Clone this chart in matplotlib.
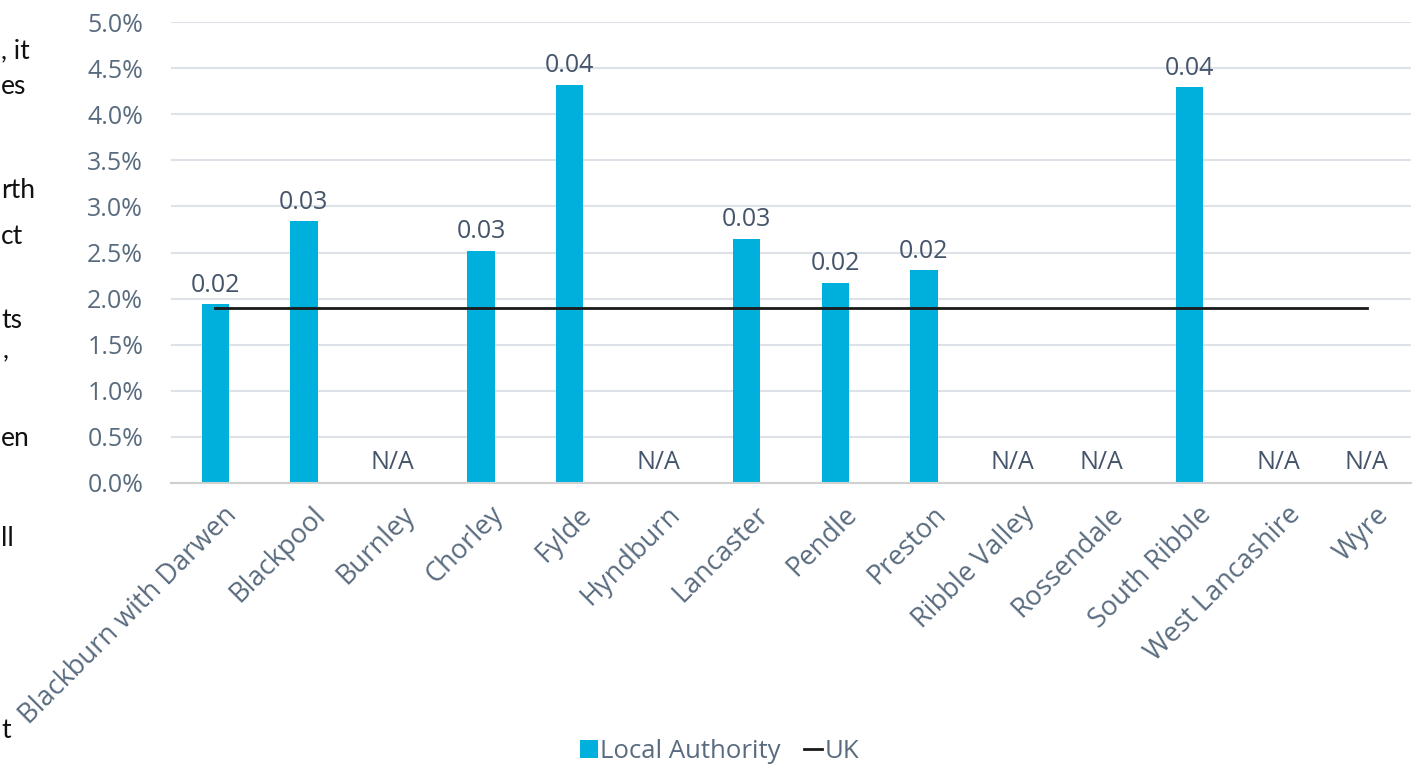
import numpy as np
import matplotlib
matplotlib.use("Agg")
import matplotlib.pyplot as plt
from matplotlib.patches import Patch
from matplotlib.lines import Line2D
from matplotlib.transforms import offset_copy

# Share of local businesses by Lancashire local authority, against the UK figure
authorities = ["Blackburn with Darwen", "Blackpool", "Burnley", "Chorley", "Fylde",
               "Hyndburn", "Lancaster", "Pendle", "Preston", "Ribble Valley",
               "Rossendale", "South Ribble", "West Lancashire", "Wyre"]
local_share = [0.0194, 0.0284, None, 0.0252, 0.0432, None, 0.0265, 0.0217,
               0.0231, None, None, 0.0429, None, None]
uk_share = 0.019
y_ticks = [0.0, 0.005, 0.01, 0.015, 0.02, 0.025, 0.03, 0.035, 0.04, 0.045, 0.05]

# Fragments of the neighbouring paragraph that run in from the left edge
side_text = [(", it", 51), ("es", 87), ("rth", 191), ("ct", 237), ("ts", 320),
             (",", 350), ("en", 438), ("ll", 538), ("t", 731)]
side_right = [28, 16, 28, 18, 14, 9, 19, 13, 10]

BAR = "#00b0dc"
TXT = "#596b7e"
LBL = "#44546a"
FONT = ["Open Sans", "DejaVu Sans"]
SIDE_FONT = ["Lato", "DejaVu Sans"]

W, H = 1413, 766
fig = plt.figure(figsize=(W / 100, H / 100), dpi=100)
ax = fig.add_axes([171 / W, 1 - 483 / H, (1411 - 171) / W, (483 - 22) / H])

x = np.arange(len(authorities))
for i, v in enumerate(local_share):
    if v is None:
        ax.text(i, 0.0022, "N/A", ha="center", va="center", fontsize=18,
                color=LBL, family=FONT)
    else:
        ax.bar(i, v, width=0.31, color=BAR, zorder=2)
        ax.text(i, v + 0.0007, f"{v:.2f}", ha="center", va="bottom",
                fontsize=18, color=LBL, family=FONT)

ax.plot([x[0], x[-1]], [uk_share, uk_share], color="#1a1a1a", lw=2, zorder=3)

ax.set_xlim(-0.5, len(authorities) - 0.5)
ax.set_ylim(0, 0.05)
ax.set_yticks(y_ticks)
ax.set_yticklabels([f"{t * 100:.1f}%" for t in y_ticks], family=FONT,
                   fontsize=18, color=TXT)
ax.tick_params(axis="y", length=0, pad=20)
ax.set_xticks([])
ax.grid(axis="y", color="#dde2e8", lw=1.5, zorder=0)
ax.set_axisbelow(True)
for side in ("top", "right", "left"):
    ax.spines[side].set_visible(False)
ax.spines["bottom"].set_color("#d0d0d0")
ax.spines["bottom"].set_linewidth(1.5)

for i, name in enumerate(authorities):
    ax.annotate(name, xy=(i, 0), xycoords=("data", "axes fraction"),
                xytext=(13, -20), textcoords="offset points",
                rotation=45, ha="right", va="center", rotation_mode="anchor",
                fontsize=19.5, color=TXT, family=FONT)

handles = [Patch(facecolor=BAR, edgecolor="none"),
           Line2D([0], [0], color="#1a1a1a", lw=2)]
fig.legend(handles, ["Local Authority", "UK"], loc="center",
           bbox_to_anchor=(0.509, 1 - 751 / H), ncol=2, frameon=False,
           prop={"family": FONT, "size": 18.5}, labelcolor=TXT,
           handlelength=0.7, handletextpad=0.1, columnspacing=0.9)

# Right-align the fragments, nudging any that would run past the left edge
renderer = fig.canvas.get_renderer()
for (frag, yc), xr in zip(side_text, side_right):
    t = fig.text(xr / W, 1 - yc / H, frag, ha="right", va="center",
                 fontsize=19, color="#111111", family=SIDE_FONT)
    x0 = t.get_window_extent(renderer).x0
    if x0 < 1:
        t.set_x((xr + 1 - x0) / W)

fig.savefig("out.png", dpi=100, facecolor="white")
